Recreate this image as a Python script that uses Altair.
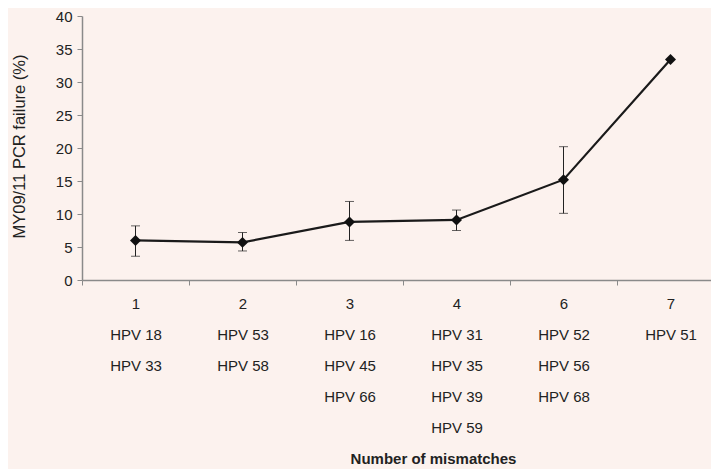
import altair as alt
import pandas as pd
import json

# ---- data ----
mismatches = ["1", "2", "3", "4", "6", "7"]
failure = [6.0, 5.7, 8.8, 9.1, 15.2, 33.4]
err_low = [3.6, 4.4, 6.0, 7.5, 10.1, None]
err_high = [8.2, 7.2, 11.9, 10.6, 20.2, None]
hpv_types = [
    ["HPV 18", "HPV 33"],
    ["HPV 53", "HPV 58"],
    ["HPV 16", "HPV 45", "HPV 66"],
    ["HPV 31", "HPV 35", "HPV 39", "HPV 59"],
    ["HPV 52", "HPV 56", "HPV 68"],
    ["HPV 51"],
]
y_ticks = [0, 5, 10, 15, 20, 25, 30, 35, 40]

df = pd.DataFrame({"m": mismatches, "rate": failure, "lo": err_low, "hi": err_high})
df_err = df.dropna()

label_lists = [[c] + h for c, h in zip(mismatches, hpv_types)]
label_expr = "{}[indexof({}, datum.value)]".format(
    json.dumps(label_lists).replace('"', "'"),
    json.dumps(mismatches).replace('"', "'"),
)

FONT = "Liberation Sans"
TXT = "#222222"
AX = "#8a8a8a"
BG = "#fcf2ee"

x_axis = alt.Axis(
    title="Number of mismatches",
    labelExpr=label_expr,
    labelAngle=0,
    labelFont=FONT,
    labelFontSize=15,
    labelColor=TXT,
    labelLineHeight=31,
    labelPadding=11,
    labelBaseline="top",
    tickBand="extent",
    tickColor=AX,
    tickSize=5,
    domainColor=AX,
    domainWidth=1.5,
    titleFont=FONT,
    titleFontSize=15,
    titleFontWeight="bold",
    titleColor=TXT,
    titleX=351,
    titleY=183,
    titleBaseline="alphabetic",
    titleAlign="center",
    grid=False,
)

y_axis = alt.Axis(
    title="MY09/11 PCR failure (%)",
    values=y_ticks,
    tickCount=9,
    labelOverlap=False,
    labelFont=FONT,
    labelFontSize=15,
    labelColor=TXT,
    labelPadding=5,
    tickColor=AX,
    tickSize=5,
    domainColor=AX,
    domainWidth=1.5,
    titleFont=FONT,
    titleFontSize=16.5,
    titleFontWeight="normal",
    titleColor=TXT,
    titleAngle=270,
    titleX=-63,
    titleY=130,
    titleAlign="center",
    titleBaseline="middle",
    grid=False,
)

x_scale = alt.Scale(range=[0, 642], paddingInner=0, paddingOuter=0)
y_scale = alt.Scale(domain=[0, 40], nice=False)


def X():
    return alt.X("m:N", sort=mismatches, scale=x_scale, axis=x_axis)


def Y(field):
    return alt.Y(field, scale=y_scale, axis=y_axis)


base = alt.Chart(df)

line = base.mark_line(color="#1a1a1a", strokeWidth=2.2).encode(x=X(), y=Y("rate:Q"))
points = base.mark_point(shape="diamond", filled=True, size=120, color="#111111", opacity=1).encode(
    x=X(), y=Y("rate:Q")
)
err = alt.Chart(df_err).mark_rule(color="#222222", strokeWidth=1).encode(
    x=X(), y=Y("lo:Q"), y2="hi:Q"
)
cap_lo = alt.Chart(df_err).mark_tick(color="#222222", thickness=1, size=9, orient="horizontal").encode(
    x=X(), y=Y("lo:Q")
)
cap_hi = alt.Chart(df_err).mark_tick(color="#222222", thickness=1, size=9, orient="horizontal").encode(
    x=X(), y=Y("hi:Q")
)

chart = (
    alt.layer(err, cap_lo, cap_hi, line, points)
    .properties(
        width=629,
        height=264,
        autosize=alt.AutoSizeParams(type="none"),
        padding={"left": 74, "top": 8, "right": 0, "bottom": 189},
        background=BG,
    )
    .configure_view(stroke=None)
)

chart.save("out.html", embed_options={"renderer": "svg", "actions": False})
